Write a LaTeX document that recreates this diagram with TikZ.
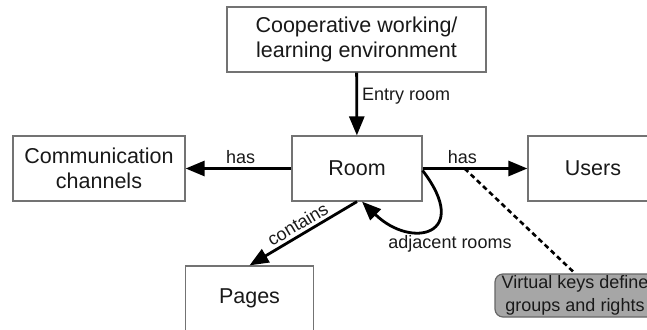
\documentclass[tikz,border=0pt]{standalone}
\usepackage{fontspec}
\setmainfont{Liberation Sans}
\usetikzlibrary{arrows.meta,calc}
\begin{document}
\begin{tikzpicture}[x=1pt,y=-1pt,
  box/.style={draw=black!55, line width=1.2pt, fill=white, inner sep=0pt,
    font=\fontsize{21.5}{25}\selectfont, align=center, text=black!90},
  keybox/.style={draw=black!60, line width=1.2pt, fill=black!35, rounded corners=8pt,
    inner sep=0pt, font=\fontsize{18}{23}\selectfont, align=center, text=black!90},
  lbl/.style={font=\fontsize{18}{21}\selectfont, inner sep=1pt, text=black!90},
  conn/.style={line width=2.8pt, -{Triangle[length=19pt,width=15pt]}},
  dashconn/.style={line width=2.6pt, dash pattern=on 5pt off 3.5pt},
]
\useasboundingbox (0,0) rectangle (647,329);
\clip (0,0) rectangle (647,329);
\node[box, minimum width=259pt, minimum height=65pt] (env) at (356.5,39.5) {Cooperative working/\\learning environment};
\node[box, minimum width=130pt, minimum height=65pt] (room) at (357,168.5) {Room};
\node[box, minimum width=172pt, minimum height=65pt] (comm) at (99,168.5) {Communication\\channels};
\node[box, minimum width=130pt, minimum height=65pt] (users) at (593,168.5) {Users};
\node[box, minimum width=128pt, minimum height=65pt] (pages) at (249.5,298.5) {Pages};
\node[keybox, minimum width=160pt, minimum height=43pt] (vk) at (575,295.5) {Virtual keys define\\groups and rights};

\draw[conn] (env) -- (room) node[lbl, pos=0.37, anchor=west, xshift=3pt] {Entry room};
\draw[conn] (room) -- (comm) node[lbl, pos=0.48, anchor=south, yshift=2pt] {has};
\draw[conn] (room) -- (users) node[lbl, pos=0.38, anchor=south, yshift=2pt] {has};
\draw[conn] (room.south) -- (pages.north) node[lbl, midway, sloped, above, yshift=2pt] {contains};
\coordinate (adjstart) at ([yshift=-2pt]room.east);
\coordinate (adjend) at ([xshift=5pt]room.south);
\draw[conn] (adjstart) .. controls (472,235) and (412,250) .. (adjend);
\node[lbl] (adjlbl) at (450,244) {adjacent rooms};
\coordinate (hasmid) at ($(room.east)!0.4!(users.west)$);
\draw[dashconn] (hasmid) -- (vk.north);
\end{tikzpicture}
\end{document}
